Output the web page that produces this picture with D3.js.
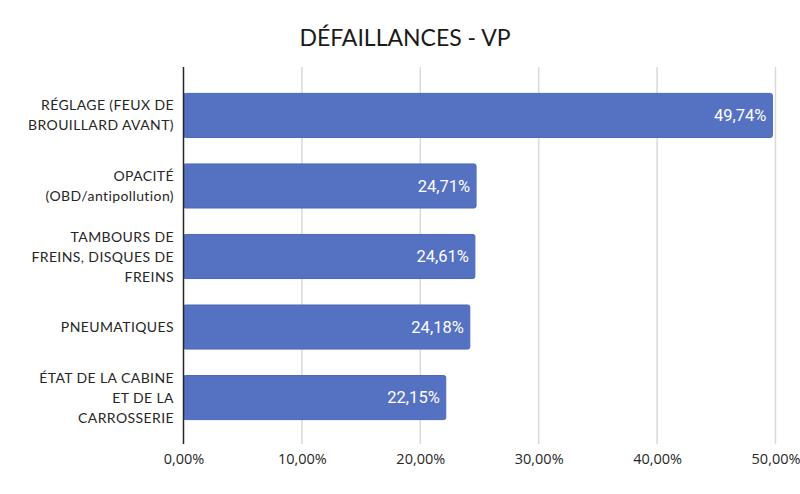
<!DOCTYPE html>
<html>
<head>
<meta charset="utf-8">
<script src="https://cdn.jsdelivr.net/npm/d3@7"></script>
<style>
  body { margin: 0; background: #fff; }
  svg { display: block; }
</style>
</head>
<body>
<div id="chart"></div>
<script>
// categories (each label already split in lines) and values, in %
var categories = [
  ["RÉGLAGE (FEUX DE", "BROUILLARD AVANT)"],
  ["OPACITÉ", "(OBD/antipollution)"],
  ["TAMBOURS DE", "FREINS, DISQUES DE", "FREINS"],
  ["PNEUMATIQUES"],
  ["ÉTAT DE LA CABINE", "ET DE LA", "CARROSSERIE"]
];
var values = [49.74, 24.71, 24.61, 24.18, 22.15];
var ticks = [0, 10, 20, 30, 40, 50];
var title = "DÉFAILLANCES - VP";

var width = 800, height = 494;
var fmt = function(v) { return v.toFixed(2).replace(".", ",") + "%"; };

var svg = d3.select("#chart").append("svg")
  .attr("width", width)
  .attr("height", height);

var x = d3.scaleLinear().domain([0, 50]).range([183.5, 775.5]);
var y = d3.scaleBand()
  .domain(d3.range(categories.length))
  .range([80, 433])
  .paddingInner(0.375)
  .paddingOuter(0.19);

// title
svg.append("text")
  .attr("x", 405).attr("y", 46)
  .attr("text-anchor", "middle")
  .style("font-family", "Lato, 'Open Sans', sans-serif")
  .style("font-size", "23px")
  .style("fill", "#1a1a1a")
  .text(title);

// gridlines
svg.append("g").selectAll("line")
  .data(ticks.slice(1))
  .enter().append("line")
  .attr("x1", function(d) { return x(d); })
  .attr("x2", function(d) { return x(d); })
  .attr("y1", 67).attr("y2", 444)
  .attr("stroke", "#d9d9d9")
  .attr("stroke-width", 1.5);

// x tick labels
var xAxis = d3.axisBottom(x).tickValues(ticks).tickSize(0).tickPadding(10)
  .tickFormat(function(d) { return fmt(d); });
var gx = svg.append("g").attr("transform", "translate(0,444)").call(xAxis);
gx.select(".domain").remove();
gx.selectAll("text")
  .style("font-family", "'Open Sans', sans-serif")
  .style("font-size", "14.5px")
  .style("fill", "#262626");

// bars
svg.append("g").selectAll("rect")
  .data(values)
  .enter().append("rect")
  .attr("x", x(0))
  .attr("y", function(d, i) { return y(i); })
  .attr("width", function(d) { return x(d) - x(0); })
  .attr("height", y.bandwidth())
  .attr("rx", 2)
  .attr("fill", "#5571c2")
  .attr("stroke", "#4d68b8")
  .attr("stroke-width", 1);

// value labels
svg.append("g").selectAll("text")
  .data(values)
  .enter().append("text")
  .attr("x", function(d) { return x(d) - 6; })
  .attr("y", function(d, i) { return y(i) + y.bandwidth() / 2; })
  .attr("dy", "0.36em")
  .attr("text-anchor", "end")
  .style("font-family", "Roboto, sans-serif")
  .style("font-size", "16.5px")
  .style("fill", "#ffffff")
  .text(fmt);

// y axis line
svg.append("line")
  .attr("x1", x(0)).attr("x2", x(0))
  .attr("y1", 67).attr("y2", 444)
  .attr("stroke", "#262626")
  .attr("stroke-width", 1.5);

// category labels
var lineH = 20;
var lab = svg.append("g").selectAll("text")
  .data(categories)
  .enter().append("text")
  .attr("text-anchor", "end")
  .attr("y", function(d, i) { return y(i) + y.bandwidth() / 2 - (d.length - 1) * lineH / 2; })
  .style("font-family", "Lato, 'Open Sans', sans-serif")
  .style("font-size", "14px")
  .style("letter-spacing", "0.4px")
  .style("fill", "#262626");
lab.selectAll("tspan")
  .data(function(d) { return d; })
  .enter().append("tspan")
  .attr("x", 174)
  .attr("dy", function(d, i) { return i === 0 ? "0.36em" : lineH; })
  .text(function(d) { return d; });
</script>
</body>
</html>
